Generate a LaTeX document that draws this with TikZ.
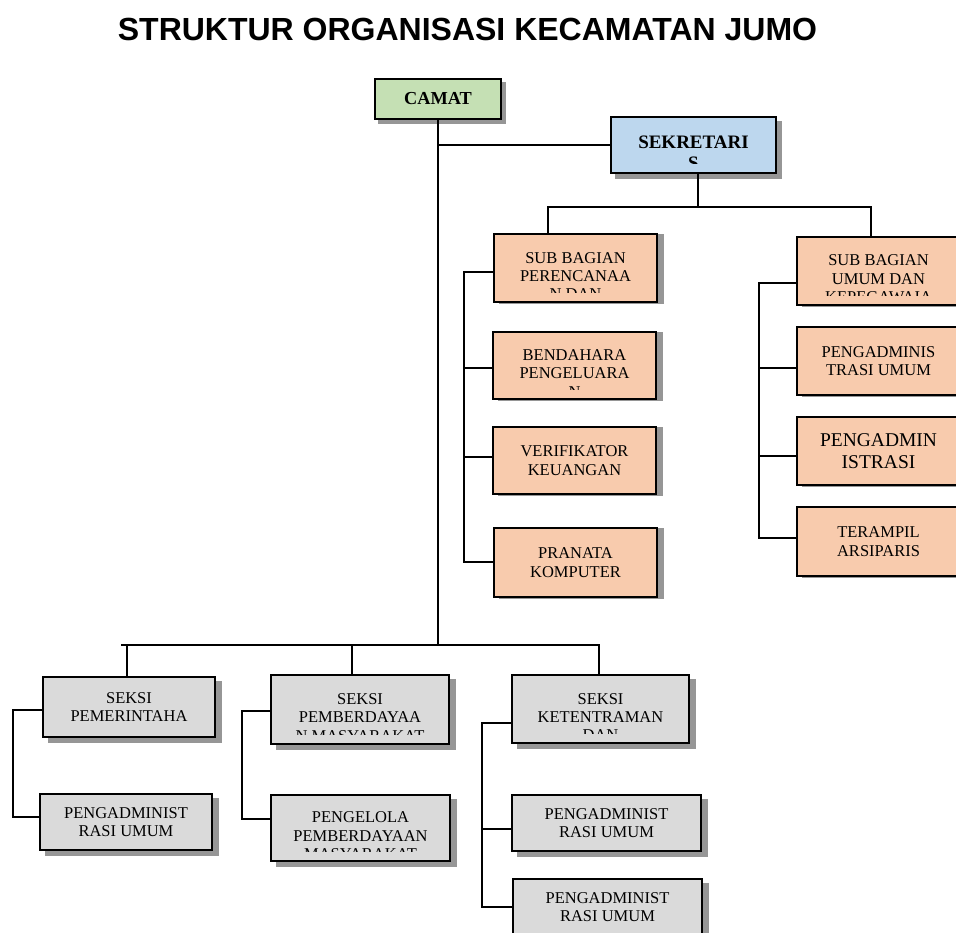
\documentclass[tikz,border=0pt]{standalone}
\usepackage{fontspec}
\setmainfont{Liberation Serif}
\newfontfamily\titlefont{Liberation Sans}
\usetikzlibrary{backgrounds}

\definecolor{camatgreen}{RGB}{197,224,180}
\definecolor{sekblue}{RGB}{189,215,238}
\definecolor{suborange}{RGB}{248,203,173}
\definecolor{seksigray}{RGB}{218,218,218}
\definecolor{shadowgray}{RGB}{150,150,150}

\newcommand{\boxfont}{\fontsize{16.5}{18.3}\selectfont}

\tikzset{
    unit/.style={draw, line width=1.8pt, inner sep=0pt, align=center, font=\boxfont},
    camatbox/.style={unit, fill=camatgreen, minimum width=126pt, minimum height=40pt,
        font=\bfseries\fontsize{18.3}{21}\selectfont},
    sekbox/.style={unit, fill=sekblue, minimum width=165pt, minimum height=56pt,
        font=\bfseries\fontsize{19}{21}\selectfont},
    subbox/.style={unit, fill=suborange, minimum width=163pt, minimum height=68pt},
    seksibox/.style={unit, fill=seksigray, minimum width=172pt, minimum height=60pt},
    cuttext/.style={path picture={
        \clip ([yshift=10pt]path picture bounding box.south west) rectangle (path picture bounding box.north east);
        \node[anchor=north, inner sep=0pt, align=center] at ([yshift=-7pt]path picture bounding box.north) {#1};
    }},
    link/.style={line width=2pt},
}

\begin{document}
\begin{tikzpicture}[x=1pt, y=-1pt]
    \useasboundingbox (0,0) rectangle (956,932);

    \node[font=\titlefont\bfseries\fontsize{32}{38}\selectfont] (title) at (467.5,29)
        {STRUKTUR ORGANISASI KECAMATAN JUMO};

    % pimpinan
    \node[camatbox] (camat) at (438,99) {CAMAT};
    \node[sekbox, cuttext={SEKRETARI\\S}] (sekre) at (693.5,145) {};

    % sekretariat, kiri
    \node[subbox, cuttext={SUB BAGIAN\\PERENCANAA\\N DAN}] (p1) at (575.5,268) {};
    \node[subbox, minimum height=67pt, cuttext={BENDAHARA\\PENGELUARA\\N}] (p2) at (574.5,365.5) {};
    \node[subbox, minimum height=67pt] (p3) at (574.5,460.5) {VERIFIKATOR\\KEUANGAN};
    \node[subbox, minimum height=69pt] (p4) at (575.5,562.5) {PRANATA\\KOMPUTER};

    % sekretariat, kanan
    \node[subbox, cuttext={SUB BAGIAN\\UMUM DAN\\KEPEGAWAIA}] (u1) at (878.5,271) {};
    \node[subbox] (u2) at (878.5,361) {PENGADMINIS\\TRASI UMUM};
    \node[subbox, font=\fontsize{19.5}{21.7}\selectfont] (u3) at (878.5,451) {PENGADMIN\\ISTRASI};
    \node[subbox, minimum height=69pt] (u4) at (878.5,541.5) {TERAMPIL\\ARSIPARIS};

    % seksi
    \node[seksibox] (s1) at (129,707) {SEKSI\\PEMERINTAHA};
    \node[seksibox, minimum height=56pt] (s1a) at (126,822) {PENGADMINIST\\RASI UMUM};
    \node[seksibox, minimum width=178pt, minimum height=69pt,
        cuttext={SEKSI\\PEMBERDAYAA\\N MASYARAKAT}] (s2) at (360,709.5) {};
    \node[seksibox, minimum width=179pt, minimum height=66pt,
        cuttext={PENGELOLA\\PEMBERDAYAAN\\MASYARAKAT}] (s2a) at (360.5,828) {};
    \node[seksibox, minimum width=177pt, minimum height=68pt,
        cuttext={SEKSI\\KETENTRAMAN\\DAN}] (s3) at (600.5,709) {};
    \node[seksibox, minimum width=189pt, minimum height=56pt] (s3a) at (606.5,823) {PENGADMINIST\\RASI UMUM};
    \node[seksibox, minimum width=189pt, minimum height=56pt] (s3b) at (607.5,907) {PENGADMINIST\\RASI UMUM};

    \begin{scope}[on background layer]
        \foreach \n/\dx/\dy in {camat/4/4, sekre/5/5, p1/6/1, p2/6/1, p3/6/1, p4/6/1,
                u1/6/1, u2/6/1, u3/6/1, u4/6/1, s1/6/5, s1a/6/5, s2/6/5, s2a/6/5,
                s3/6/5, s3a/6/5, s3b/6/5} {
            \fill[shadowgray] ([shift={(\dx,\dy)}]\n.south west) rectangle ([shift={(\dx,\dy)}]\n.north east);
        }
    \end{scope}

    % garis camat
    \coordinate (cbus) at (438,645);
    \coordinate (busL) at (121,645);
    \coordinate (busR) at (600,645);
    \draw[link] (camat.south) -- (cbus);
    \draw[link] (camat.south |- sekre.west) -- (sekre.west);
    \draw[link] (busL) -- (busR);
    \coordinate (d1) at (127,645);
    \coordinate (d2) at (352,645);
    \coordinate (d3) at (599,645);
    \draw[link] (d1) -- (d1 |- s1.north);
    \draw[link] (d2) -- (d2 |- s2.north);
    \draw[link] (d3) -- (d3 |- s3.north);

    % garis sekretaris
    \coordinate (sbus) at (698,207);
    \coordinate (sbusL) at (548,207);
    \coordinate (sbusR) at (871,207);
    \draw[link] (sekre.south -| sbus) -- (sbus);
    \draw[link] (sbusL |- p1.north) -- (sbusL) -- (sbusR) -- (sbusR |- u1.north);

    \coordinate (pt) at (464,272);
    \coordinate (pb) at (464,562);
    \draw[link] (p1.west |- pt) -- (pt) -- (pb) -- (p4.west |- pb);
    \draw[link] ([yshift=-2.5pt]p2.west) -- ([yshift=-2.5pt]p2.west -| pt);
    \draw[link] ([yshift=3.5pt]p3.west) -- ([yshift=3.5pt]p3.west -| pt);

    \coordinate (ut) at (759,283);
    \coordinate (ub) at (759,538);
    \draw[link] (u1.west |- ut) -- (ut) -- (ub) -- (u4.west |- ub);
    \draw[link] ([yshift=-7pt]u2.west) -- ([yshift=-7pt]u2.west -| ut);
    \draw[link] ([yshift=-5pt]u3.west) -- ([yshift=-5pt]u3.west -| ut);

    % garis seksi
    \coordinate (l1t) at (13,710);
    \coordinate (l1b) at (13,817);
    \draw[link] (s1.west |- l1t) -- (l1t) -- (l1b) -- (s1a.west |- l1b);
    \coordinate (l2t) at (242,711);
    \coordinate (l2b) at (242,819);
    \draw[link] (s2.west |- l2t) -- (l2t) -- (l2b) -- (s2a.west |- l2b);
    \coordinate (l3t) at (482,723);
    \coordinate (l3b) at (482,907);
    \draw[link] (s3.west |- l3t) -- (l3t) -- (l3b) -- (s3b.west |- l3b);
    \draw[link] ([yshift=-6pt]s3a.west) -- ([yshift=-6pt]s3a.west -| l3t);
\end{tikzpicture}
\end{document}
